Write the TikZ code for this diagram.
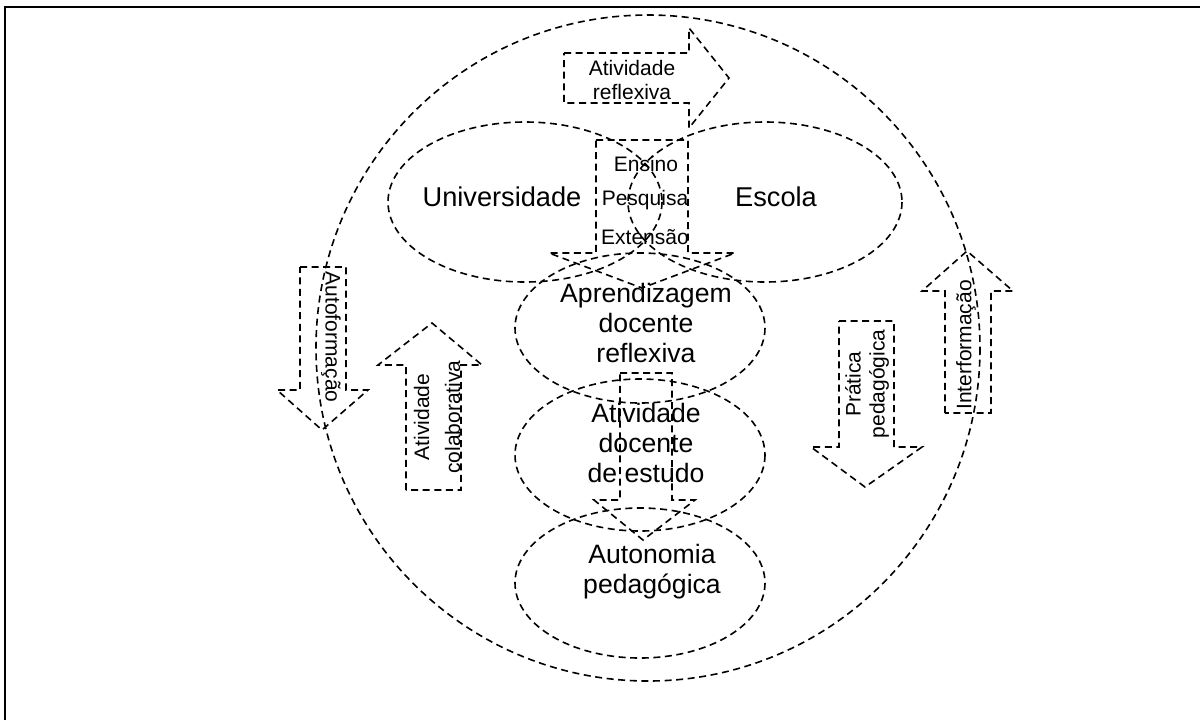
\documentclass[tikz,border=0pt]{standalone}
\usepackage{fontspec}
\setmainfont{Liberation Sans}
\usepackage{tikz}

\begin{document}
\begin{tikzpicture}[x=0.5pt,y=0.5pt,yscale=-1,xscale=1,
  dsh/.style={dash pattern=on 3.5pt off 2.3pt, line width=0.8pt},
  bigtxt/.style={inner sep=0.75pt, align=center, font=\fontsize{13.3}{15}\selectfont},
  smalltxt/.style={inner sep=0.75pt, align=center, font=\fontsize{10.5}{12}\selectfont}]
\useasboundingbox (0,0) rectangle (1200,720);

%Frame
\draw [line width=1.2pt] (5,720) -- (5,7) -- (1200,7) ;

%Shape: Circle
\draw [dsh] (648,348) ellipse (332 and 333) ;
%Shape: Ellipse
\draw [dsh] (525,202) ellipse (137 and 80) ;
%Shape: Ellipse
\draw [dsh] (765,202) ellipse (137 and 80) ;
%Shape: Ellipse
\draw [dsh] (640,328) ellipse (125 and 75) ;
%Shape: Ellipse
\draw [dsh] (640,455) ellipse (125 and 76) ;
%Shape: Ellipse
\draw [dsh] (640,583) ellipse (125 and 75) ;

%Right Arrow
\draw [dsh] (564,53) -- (689,53) -- (689,28) -- (729,78) -- (689,128) -- (689,103) -- (564,103) -- cycle ;
%Down Arrow
\draw [dsh] (596,140) -- (688,140) -- (688,253) -- (735,253) -- (642,288) -- (549,253) -- (596,253) -- cycle ;
%Down Arrow
\draw [dsh] (620,373) -- (672,373) -- (672,500) -- (695,500) -- (643,540) -- (594,500) -- (620,500) -- cycle ;
%Down Arrow
\draw [dsh] (300,267) -- (346,267) -- (346,390) -- (368,390) -- (322,430) -- (277,390) -- (300,390) -- cycle ;
%Up Arrow
\draw [dsh] (406,490) -- (406,365) -- (378,365) -- (432,323) -- (482,365) -- (461,365) -- (461,490) -- cycle ;
%Down Arrow
\draw [dsh] (839,321) -- (894,321) -- (894,447) -- (922,447) -- (865,487) -- (811,447) -- (839,447) -- cycle ;
%Up Arrow
\draw [dsh] (945,413) -- (945,291) -- (922,291) -- (967,251) -- (1013,291) -- (991,291) -- (991,413) -- cycle ;

% Text Node
\draw (502,197) node [bigtxt, font=\fontsize{13.6}{15}\selectfont] (univ) {Universidade};
% Text Node
\draw (776,197) node [bigtxt, font=\fontsize{13.6}{15}\selectfont] (escola) {Escola};
% Text Node
\draw (646,164) node [smalltxt] (ensino) {Ensino};
% Text Node
\draw (645,200) node [smalltxt] (pesq) {Pesquisa};
% Text Node
\draw (645,237) node [smalltxt] (ext) {Extensão};
% Text Node
\draw (632,80) node [smalltxt] (refl) {Atividade\\reflexiva};
% Text Node
\draw (646,323) node [bigtxt] (aprend) {Aprendizagem\\docente\\reflexiva};
% Text Node
\draw (646,443) node [bigtxt] (ativ) {Atividade\\docente\\de estudo};
% Text Node
\draw (652,572) node [bigtxt] (auton) {Autonomia\\pedagógica};
% Text Node
\draw (331,337) node [smalltxt, rotate=-90] (autof) {Autoformação};
% Text Node
\draw (437,417) node [smalltxt, rotate=90, font=\fontsize{10.5}{15.5}\selectfont] (colab) {Atividade\\colaborativa};
% Text Node
\draw (867,384) node [smalltxt, rotate=90] (pratica) {Prática\\pedagógica};
% Text Node
\draw (966,345) node [smalltxt, rotate=90] (interf) {Interformação};

\end{tikzpicture}
\end{document}
